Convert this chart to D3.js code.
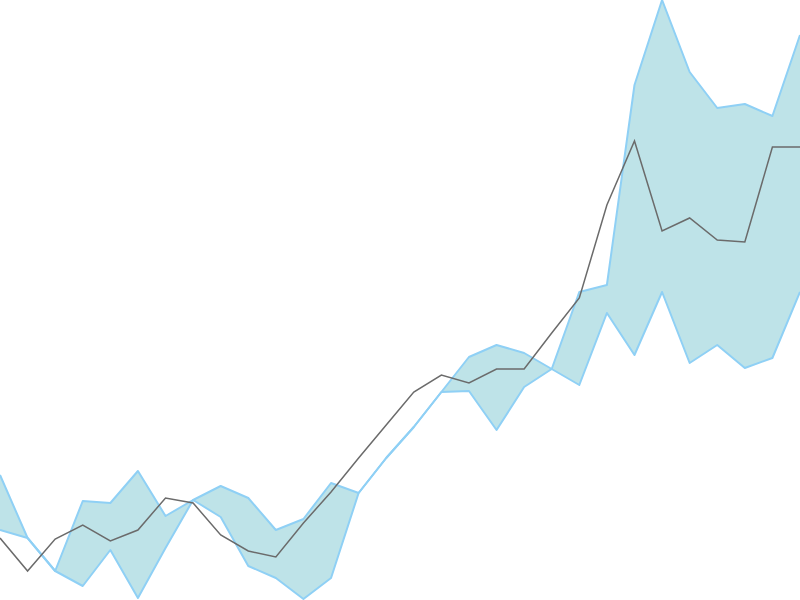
<!DOCTYPE html>
<html>
<head>
<meta charset="utf-8">
<script src="https://cdn.jsdelivr.net/npm/d3@7"></script>
<style>
  html, body { margin: 0; padding: 0; background: #fff; }
  svg { display: block; }
</style>
</head>
<body>
<div id="chart"></div>
<script>
// Data (30 evenly spaced points)
const steps = d3.range(30);
const upperBand = [125, 62, 29, 99, 97, 129, 84, 100, 114, 102, 70, 81, 117, 107, 142,
                   173, 208, 243, 255, 247, 231, 308, 315, 515, 600, 528, 492, 496, 484, 565];
const lowerBand = [70, 62, 29, 14, 50, 2, 52, 100, 83, 34, 22, 1, 22, 107, 142,
                   173, 208, 209, 170, 213, 231, 215, 287, 245, 308, 237, 255, 232, 242, 308];
const mainLine  = [62, 29, 61, 75, 59, 70, 102, 97, 65, 49, 43, 77, 108, 142, 175,
                   208, 225, 217, 231, 231, 267, 302, 395, 459, 369, 382, 360, 358, 453, 453];

const width = 800, height = 600;

const svg = d3.select("#chart")
  .append("svg")
  .attr("width", width)
  .attr("height", height);

const x = d3.scaleLinear()
  .domain([0, steps.length - 1])
  .range([0, width]);

const y = d3.scaleLinear()
  .domain([0, 600])
  .range([height, 0]);

const data = steps.map(i => ({ i, hi: upperBand[i], lo: lowerBand[i], v: mainLine[i] }));

// Band fill
const area = d3.area()
  .x(d => x(d.i))
  .y0(d => y(d.lo))
  .y1(d => y(d.hi));

svg.append("path")
  .datum(data)
  .attr("fill", "#bee3e8")
  .attr("stroke", "none")
  .attr("d", area);

// Band edges
const edge = key => d3.line().x(d => x(d.i)).y(d => y(d[key]));

["hi", "lo"].forEach(k => {
  svg.append("path")
    .datum(data)
    .attr("fill", "none")
    .attr("stroke", "#8fd0f5")
    .attr("stroke-width", 2)
    .attr("stroke-linejoin", "round")
    .attr("d", edge(k));
});

// Main gray line
svg.append("path")
  .datum(data)
  .attr("fill", "none")
  .attr("stroke", "#6b6b6b")
  .attr("stroke-width", 1.5)
  .attr("d", edge("v"));
</script>
</body>
</html>
